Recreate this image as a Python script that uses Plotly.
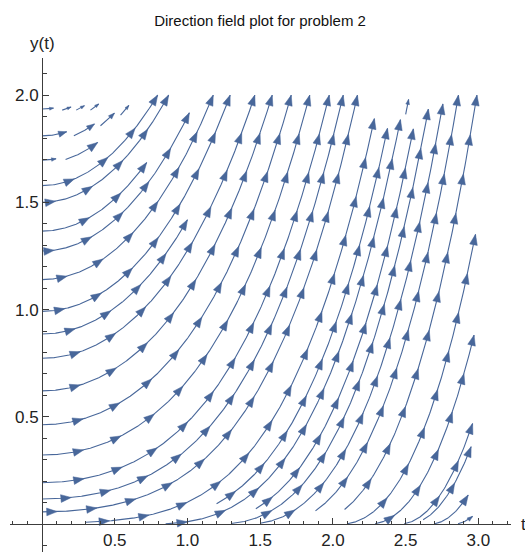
import numpy as np
import plotly.graph_objects as go

# ---------------- data ----------------
title_text = "Direction field plot for problem 2"
x_tick_vals = [0.5, 1.0, 1.5, 2.0, 2.5, 3.0]
x_tick_text = ["0.5", "1.0", "1.5", "2.0", "2.5", "3.0"]
y_tick_vals = [0.5, 1.0, 1.5, 2.0]
y_tick_text = ["0.5", "1.0", "1.5", "2.0"]

# streamlines entering at the left edge (t = 0): start y and end t
left_start_y = [1.935, 1.81, 1.697, 1.578, 1.50, 1.366, 1.273, 1.140, 0.992,
                0.886, 0.773, 0.621, 0.463, 0.322, 0.193, 0.117, 0.057]
left_end_t = [0.079, 0.17, 0.097, 3.0, 3.0, 0.72, 1.013, 3.0, 3.0,
              1.0, 3.0, 3.0, 3.0, 3.0, 3.0, 3.0, 3.0]

# streamlines starting inside the region: start t, start y, end t
inner_start_t = [0.139, 0.235, 0.333, 0.219, 0.402, 0.54, 0.162,
                 0.30, 1.20, 0.85, 2.50, 1.47, 1.30, 1.50, 1.88, 2.08,
                 2.10, 2.29, 2.49, 2.62, 2.70, 2.86]
inner_start_y = [1.93, 1.93, 1.93, 1.81, 1.857, 1.907, 1.70,
                 0.0085, 0.095, 0.0013, 1.91, 0.072, 0.0025, 0.004, 0.062, 0.068,
                 0.002, 0.002, 0.002, 0.02, 0.002, 0.002]
inner_end_t = [0.20, 0.292, 0.39, 0.361, 0.498, 0.597, 0.383,
               2.285, 2.375, 2.464, 2.52, 2.553, 2.656, 2.756, 3.0, 3.0,
               2.98, 2.97, 2.96, 2.95, 2.93, 2.96]

# ---------------- field: dy/dt = t*sqrt(y) ----------------
def slope(t, y):
    return t * np.sqrt(max(y, 0.0))

T_MAX, Y_MAX = 3.0, 2.0

# layout geometry (body margin removed by post_script)
W, H = 525, 555
ML, MR, MT, MB = 10, 14, 58, 3
XR = [-0.22, 3.224]
YR = [-0.13, 2.173]
PW, PH = W - ML - MR, H - MT - MB
SX = PW / (XR[1] - XR[0])   # px per t unit
SY = PH / (YR[1] - YR[0])   # px per y unit

COLOR = "#48679a"


def trace_line(t0, y0, t1, h=0.002):
    ts, ys = [t0], [y0]
    t, y = t0, y0
    tend = min(t1, T_MAX)
    while t < tend - 1e-12:
        step = min(h, tend - t)
        k1 = slope(t, y)
        k2 = slope(t + step / 2, y + step / 2 * k1)
        k3 = slope(t + step / 2, y + step / 2 * k2)
        k4 = slope(t + step, y + step * k3)
        yn = y + step / 6 * (k1 + 2 * k2 + 2 * k3 + k4)
        if yn >= Y_MAX:
            f = (Y_MAX - y) / (yn - y)
            ts.append(t + f * step)
            ys.append(Y_MAX)
            break
        t, y = t + step, yn
        ts.append(t)
        ys.append(y)
    return np.array(ts), np.array(ys)


lines = []
for y0, te in zip(left_start_y, left_end_t):
    lines.append(trace_line(0.0, y0, te))
for t0, y0, te in zip(inner_start_t, inner_start_y, inner_end_t):
    lines.append(trace_line(t0, y0, te))

SPACING = 40.0
line_x, line_y = [], []
head_x, head_y = [], []

for ts, ys in lines:
    px = ts * SX
    py = ys * SY
    seg = np.hypot(np.diff(px), np.diff(py))
    s = np.concatenate([[0.0], np.cumsum(seg)])
    total = s[-1]
    if total < 2:
        continue
    idx = list(range(0, len(ts), 3))
    if idx[-1] != len(ts) - 1:
        idx.append(len(ts) - 1)
    line_x.extend(ts[idx].tolist() + [None])
    line_y.extend(ys[idx].tolist() + [None])
    hl = 10.5 if total >= 30 else max(4.0, 0.33 * total)
    hw = 0.37 * hl
    pos = total
    while pos >= min(12.0, total * 0.5):
        xs = np.interp(pos, s, px)
        ysv = np.interp(pos, s, py)
        xb = np.interp(max(pos - 3.0, 0), s, px)
        yb = np.interp(max(pos - 3.0, 0), s, py)
        dx, dy = xs - xb, ysv - yb
        n = np.hypot(dx, dy)
        if n == 0:
            break
        ux, uy = dx / n, dy / n
        bx, by = xs - hl * ux, ysv - hl * uy
        pts = [(xs, ysv), (bx - hw * uy, by + hw * ux),
               (bx + hw * uy, by - hw * ux), (xs, ysv)]
        for a, b in pts:
            head_x.append(a / SX)
            head_y.append(b / SY)
        head_x.append(None)
        head_y.append(None)
        pos -= SPACING

fig = go.Figure()
fig.add_trace(go.Scatter(x=line_x, y=line_y, mode="lines",
                         line=dict(color=COLOR, width=1.1),
                         hoverinfo="skip", showlegend=False))
fig.add_trace(go.Scatter(x=head_x, y=head_y, mode="lines", fill="toself",
                         fillcolor=COLOR, line=dict(color=COLOR, width=0.5),
                         hoverinfo="skip", showlegend=False))

axis_color = "#3c3c3c"
font_family = "Liberation Sans, Arial, sans-serif"
fig.update_layout(
    width=W, height=H,
    margin=dict(l=ML, r=MR, t=MT, b=MB, pad=0),
    paper_bgcolor="white", plot_bgcolor="white",
    title=dict(text=title_text, x=262 / W, xref="paper", xanchor="center",
               y=1 - 21 / H, yanchor="middle",
               font=dict(family=font_family, size=15, color="#111")),
    xaxis=dict(range=XR, showgrid=False, zeroline=False, automargin=False,
               anchor="free", position=(0 - YR[0]) / (YR[1] - YR[0]),
               showline=True, linecolor=axis_color, linewidth=1,
               tickmode="array", tickvals=x_tick_vals, ticktext=x_tick_text,
               ticks="inside", ticklen=6, tickcolor=axis_color, tickwidth=1,
               minor=dict(ticks="inside", ticklen=3.5, dtick=0.1, tick0=0,
                          tickcolor=axis_color, tickwidth=1),
               tickfont=dict(family=font_family, size=17, color="#222")),
    yaxis=dict(range=YR, showgrid=False, zeroline=False, automargin=False,
               anchor="free", position=(0 - XR[0]) / (XR[1] - XR[0]),
               showline=True, linecolor=axis_color, linewidth=1,
               tickmode="array", tickvals=y_tick_vals, ticktext=y_tick_text,
               ticks="inside", ticklen=6, tickcolor=axis_color, tickwidth=1,
               minor=dict(ticks="inside", ticklen=3.5, dtick=0.1, tick0=0,
                          tickcolor=axis_color, tickwidth=1),
               tickfont=dict(family=font_family, size=17, color="#222")),
    annotations=[
        dict(text="y(t)", x=(0 - XR[0]) / (XR[1] - XR[0]), xref="paper",
             y=1 + 15 / PH, yref="paper",
             showarrow=False, xanchor="center", yanchor="middle",
             font=dict(family=font_family, size=17, color="#222")),
        dict(text="t", x=(519 - ML) / PW, xref="paper",
             y=(0 - YR[0]) / (YR[1] - YR[0]), yref="paper",
             showarrow=False, xanchor="left", yanchor="middle",
             font=dict(family=font_family, size=17, color="#222")),
    ],
)

fig.write_html(
    "out.html",
    config={"displayModeBar": False, "staticPlot": True},
    post_script="document.body.style.margin='0';"
                "document.documentElement.style.overflow='hidden';"
                "document.body.style.overflow='hidden';",
)
